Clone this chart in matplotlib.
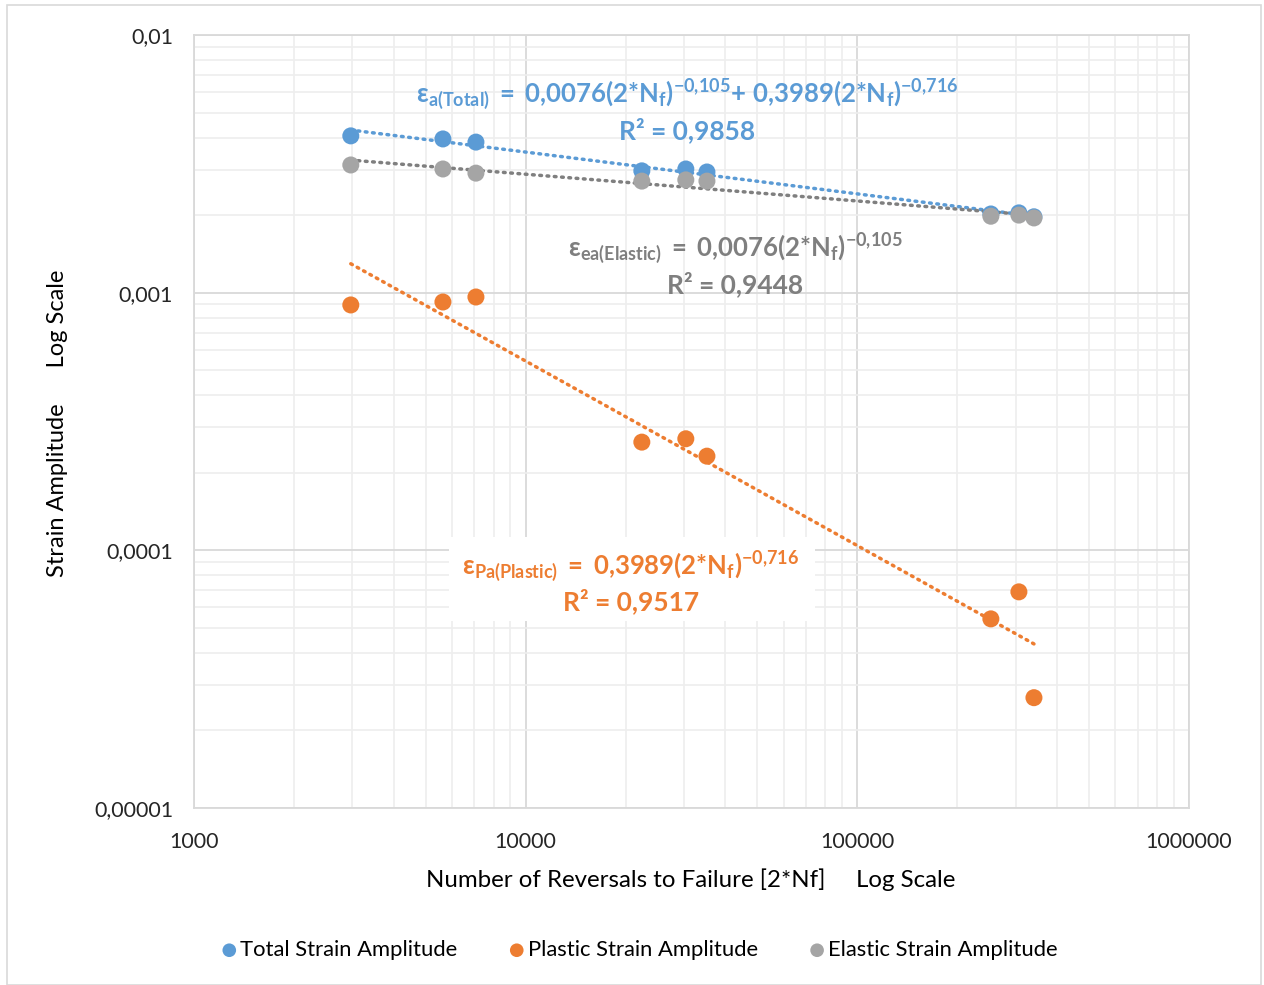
import numpy as np
import matplotlib
matplotlib.use("Agg")
import matplotlib.pyplot as plt
from matplotlib.ticker import FixedLocator, FixedFormatter, LogLocator, NullFormatter
from matplotlib.patches import Rectangle

plt.rcParams['font.family'] = ['Lato', 'DejaVu Sans']
plt.rcParams['mathtext.fontset'] = 'custom'
plt.rcParams['mathtext.rm'] = 'Lato:bold'
plt.rcParams['mathtext.it'] = 'Lato:bold'
plt.rcParams['mathtext.bf'] = 'Lato:bold'

# ---- data ----
reversals = [2970, 5630, 7080, 22400, 30400, 35200, 252700, 307000, 340800]
total_strain = [0.00406, 0.00395, 0.00384, 0.00297, 0.00302, 0.00294, 0.00202, 0.00204, 0.00197]
plastic_strain = [0.000896, 0.00092, 0.000962, 0.000263, 0.000271, 0.000232, 0.0000542, 0.000069, 0.0000268]
elastic_strain = [0.00313, 0.00302, 0.00291, 0.00271, 0.00274, 0.00271, 0.00198, 0.00200, 0.00195]

series_names = ["Total Strain Amplitude", "Plastic Strain Amplitude", "Elastic Strain Amplitude"]
series_colors = ["#5b9bd5", "#ed7d31", "#a5a5a5"]
trend_colors = ["#5b9bd5", "#ed7d31", "#7f7f7f"]

x_ticks = [1000, 10000, 100000, 1000000]
x_tick_labels = ["1000", "10000", "100000", "1000000"]
y_ticks = [0.00001, 0.0001, 0.001, 0.01]
y_tick_labels = ["0,00001", "0,0001", "0,001", "0,01"]

W, H = 1264, 985
fig = plt.figure(figsize=(W / 100, H / 100), dpi=100)
fig.patches.append(Rectangle((7 / W, 0), 1254 / W, 1 - 5 / H, transform=fig.transFigure,
                             fill=False, edgecolor="#d9d9d9", linewidth=1.2))

ax = fig.add_axes([194 / W, 1 - 808 / H, (1189 - 194) / W, (808 - 35) / H])
ax.set_xscale('log')
ax.set_yscale('log')
ax.set_xlim(1000, 1000000)
ax.set_ylim(0.00001, 0.01)

ax.xaxis.set_major_locator(FixedLocator(x_ticks))
ax.xaxis.set_major_formatter(FixedFormatter(x_tick_labels))
ax.yaxis.set_major_locator(FixedLocator(y_ticks))
ax.yaxis.set_major_formatter(FixedFormatter(y_tick_labels))
for axis in (ax.xaxis, ax.yaxis):
    axis.set_minor_locator(LogLocator(base=10, subs=np.arange(2, 10), numticks=20))
    axis.set_minor_formatter(NullFormatter())

ax.grid(which='minor', color='#eeeeee', linewidth=1.2, zorder=0)
ax.grid(which='major', color='#d9d9d9', linewidth=1.3, zorder=0)
ax.set_axisbelow(True)
ax.tick_params(which='both', length=0)
ax.tick_params(axis='x', pad=17, labelsize=15.5, labelcolor='#262626')
ax.tick_params(axis='y', pad=15, labelsize=15.5, labelcolor='#262626')
for s in ax.spines.values():
    s.set_color('#d9d9d9')
    s.set_linewidth(1.3)

x = np.array(reversals, dtype=float)
all_series = [total_strain, plastic_strain, elastic_strain]
for ys, c, tc, name in zip(all_series, series_colors, trend_colors, series_names):
    ys = np.array(ys)
    b, a = np.polyfit(np.log10(x), np.log10(ys), 1)
    xx = np.logspace(np.log10(x.min()), np.log10(x.max()), 200)
    ax.plot(xx, 10 ** a * xx ** b, color=tc, linewidth=2.5,
            linestyle=(0, (0.5, 1.6)), dash_capstyle='round', zorder=2)
    ax.scatter(x, ys, s=150, color=c, zorder=3, label=name, edgecolors='none')

def fx(px):
    return px / W

def fy(py):
    return 1 - py / H

fs = 18.5
blue, gray, orange = "#5b9bd5", "#7f7f7f", "#ed7d31"
fig.text(fx(687), fy(95),
         r"$\mathrm{ε_{a(Total)}\;=\;0{,}0076(2{*}N_f)^{-0{,}105}{+}\ 0{,}3989(2{*}N_f)^{-0{,}716}}$",
         color=blue, fontsize=fs, ha='center', va='center')
fig.text(fx(687), fy(130), "R² = 0,9858", color=blue, fontsize=19, fontweight='bold',
         ha='center', va='center')
fig.text(fx(735), fy(249),
         r"$\mathrm{ε_{ea(Elastic)}\;=\;0{,}0076(2{*}N_f)^{-0{,}105}}$",
         color=gray, fontsize=fs, ha='center', va='center')
fig.text(fx(735), fy(284), "R² = 0,9448", color=gray, fontsize=19, fontweight='bold',
         ha='center', va='center')
fig.patches.append(Rectangle((fx(449), fy(621)), (815 - 449) / W, (621 - 537) / H,
                             transform=fig.transFigure, facecolor='white', edgecolor='none', zorder=5))
fig.text(fx(631), fy(567),
         r"$\mathrm{ε_{Pa(Plastic)}\;=\;0{,}3989(2{*}N_f)^{-0{,}716}}$",
         color=orange, fontsize=fs, ha='center', va='center', zorder=6)
fig.text(fx(631), fy(601), "R² = 0,9517", color=orange, fontsize=19, fontweight='bold',
         ha='center', va='center', zorder=6)

fig.text(fx(691), fy(880), "Number of Reversals to Failure [2*Nf]     Log Scale",
         fontsize=17.3, color='#000000', ha='center', va='center')
fig.text(fx(58), fy(423), "Strain Amplitude      Log Scale", rotation=90,
         fontsize=17, color='#000000', ha='center', va='center')

leg = fig.legend(loc='center', bbox_to_anchor=(fx(638), fy(950)), ncol=3, frameon=False,
                 fontsize=15.8, handletextpad=0.0, columnspacing=2.2, markerscale=0.8,
                 handlelength=1.0)

fig.savefig("out.png", dpi=100, facecolor='white')
